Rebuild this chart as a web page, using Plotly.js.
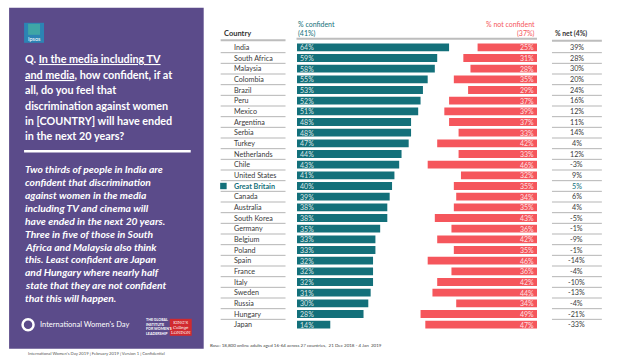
<!DOCTYPE html>
<html>
<head>
<meta charset="utf-8">
<script src="https://cdn.plot.ly/plotly-3.0.1.min.js"></script>
<style>html,body{margin:0;padding:0;background:#fff;}#chart{width:638px;height:359px;}</style>
</head>
<body>
<div id="chart"></div>
<script>
// ---- data ----
const countries = ["India","South Africa","Malaysia","Colombia","Brazil","Peru","Mexico","Argentina","Serbia","Turkey","Netherlands","Chile","United States","Great Britain","Canada","Australia","South Korea","Germany","Belgium","Poland","Spain","France","Italy","Sweden","Russia","Hungary","Japan"];
const confident = [64,59,58,55,53,52,51,48,48,47,44,43,41,40,39,38,38,35,33,33,32,32,32,31,30,28,14];
const notConfident = [25,31,28,35,29,37,39,37,33,42,33,46,32,35,34,35,43,36,42,35,46,36,42,44,34,49,47];
const net = [39,28,30,20,24,16,12,11,14,4,12,-3,9,5,6,4,-5,-1,-9,-1,-14,-4,-10,-13,-4,-21,-33];
const highlight = "Great Britain";
const headers = {country:"Country", conf1:"% confident", conf2:"(41%)", not1:"% not confident", not2:"(37%)", net:"% net (4%)"};
const questionLines = ["Q. <u>In the media including TV</u>","<u>and media</u>, how confident, if at","all, do you feel that","discrimination against women","in [COUNTRY] will have ended","in the next 20 years?"];
const summaryLines = ["Two thirds of people in India are","confident that discrimination","against women in the media","including TV and cinema will","have ended in the next 20 years.","Three in five of those in South","Africa and Malaysia also think","this. Least confident are Japan","and Hungary where nearly half","state that they are not confident","that this will happen."];
const baseText = "Base: 18,800 online adults aged 16-64 across 27 countries,  21 Dec 2018 - 4 Jan  2019";
const footerText = "International Women's Day 2019 | February 2019 | Version 1 | Confidential";

// ---- geometry (pixels) ----
const FW = 638, FH = 359;
const L = 296.5, R = 537, T = 42.2, B = 330.2;
const W = R - L, H = B - T;
const px = x => (x - L) / W;
const py = y => 1 - (y - T) / H;
const TEAL = "#13707a", RED = "#f5565c", PURPLE = "#5b4b8a";
const N = countries.length;
const XR = 101;

const traces = [
  {type:"bar", orientation:"h", y:countries, x:confident, xaxis:"x", yaxis:"y",
   marker:{color:TEAL}, text:confident.map(v=>v+"%"), textposition:"inside", insidetextanchor:"start",
   textfont:{family:"Lato, sans-serif", size:7, color:"rgba(255,255,255,0.85)"}, textangle:0, constraintext:"none",
   hoverinfo:"skip", showlegend:false},
  {type:"bar", orientation:"h", y:countries, x:notConfident, xaxis:"x2", yaxis:"y",
   marker:{color:RED}, text:notConfident.map(v=>v+"%"), textposition:"inside", insidetextanchor:"start",
   textfont:{family:"Lato, sans-serif", size:7, color:"rgba(255,255,255,0.85)"}, textangle:0, constraintext:"none",
   hoverinfo:"skip", showlegend:false}
];

const shapes = [];
const ann = [];
// left panel
shapes.push({type:"rect", xref:"paper", yref:"paper", x0:px(8), x1:px(203), y0:py(8), y1:py(349), fillcolor:PURPLE, line:{width:0}, layer:"below"});
// Ipsos logo
shapes.push({type:"rect", xref:"paper", yref:"paper", x0:px(23), x1:px(43), y0:py(23), y1:py(43), fillcolor:"#2c84b4", line:{width:0}});
shapes.push({type:"rect", xref:"paper", yref:"paper", x0:px(27), x1:px(39), y0:py(24), y1:py(35), fillcolor:"#3fa6a6", line:{width:0}});
ann.push({xref:"paper", yref:"paper", x:px(33), y:py(39.5), text:"Ipsos", showarrow:false, xanchor:"center", yanchor:"middle", font:{family:"Lato", size:5.5, color:"#fff"}});
questionLines.forEach((t,i)=>ann.push({xref:"paper", yref:"paper", x:px(22), y:py(59+i*15.4), text:"<b>"+t+"</b>", showarrow:false, xanchor:"left", yanchor:"middle", font:{family:"Lato, sans-serif", size:10.8, color:"#fff"}}));
shapes.push({type:"line", xref:"paper", yref:"paper", x0:px(23), x1:px(190), y0:py(151.5), y1:py(151.5), line:{color:"#fff", width:2.5}});
summaryLines.forEach((t,i)=>ann.push({xref:"paper", yref:"paper", x:px(22), y:py(169.3+i*12.9), text:"<b><i>"+t+"</i></b>", showarrow:false, xanchor:"left", yanchor:"middle", font:{family:"Lato, sans-serif", size:10.3, color:"#fff"}}));
// IWD logo
shapes.push({type:"circle", xref:"paper", yref:"paper", x0:px(21.5), x1:px(32.5), y0:py(319.5), y1:py(330.5), line:{color:"#fff", width:2.5}});
ann.push({xref:"paper", yref:"paper", x:px(37), y:py(325), text:"International Women's Day", showarrow:false, xanchor:"left", yanchor:"middle", font:{family:"Lato, sans-serif", size:7.5, color:"#fff"}});
ann.push({xref:"paper", yref:"paper", x:px(143), y:py(327), text:"<b>THE GLOBAL<br>INSTITUTE<br>FOR WOMEN'S<br>LEADERSHIP</b>", showarrow:false, xanchor:"left", yanchor:"middle", align:"left", font:{family:"Lato, sans-serif", size:3.6, color:"#fff"}});
shapes.push({type:"rect", xref:"paper", yref:"paper", x0:px(169), x1:px(191), y0:py(319), y1:py(336), fillcolor:"#d12a2f", line:{width:0}});
ann.push({xref:"paper", yref:"paper", x:px(180), y:py(327.5), text:"KING'S<br>College<br>LONDON", showarrow:false, xanchor:"center", yanchor:"middle", font:{family:"DejaVu Serif, serif", size:4, color:"#fff"}});
// footer & base
ann.push({xref:"paper", yref:"paper", x:px(25), y:py(353.5), text:footerText, showarrow:false, xanchor:"left", yanchor:"middle", font:{family:"Lato, sans-serif", size:4.2, color:"#555"}});
ann.push({xref:"paper", yref:"paper", x:px(207.5), y:py(346), text:baseText, showarrow:false, xanchor:"left", yanchor:"middle", font:{family:"Lato, sans-serif", size:4.5, color:"#444"}});

// headers
ann.push({xref:"paper", yref:"paper", x:px(221.5), y:py(33.5), text:"<b>"+headers.country+"</b>", showarrow:false, xanchor:"left", yanchor:"middle", font:{family:"Lato, sans-serif", size:7.5, color:"#333"}});
ann.push({xref:"paper", yref:"paper", x:px(295.5), y:py(24.5), text:headers.conf1, showarrow:false, xanchor:"left", yanchor:"middle", font:{family:"Lato, sans-serif", size:7, color:TEAL}});
ann.push({xref:"paper", yref:"paper", x:px(295.5), y:py(34), text:headers.conf2, showarrow:false, xanchor:"left", yanchor:"middle", font:{family:"Lato, sans-serif", size:7, color:TEAL}});
ann.push({xref:"paper", yref:"paper", x:px(537.5), y:py(24.5), text:headers.not1, showarrow:false, xanchor:"right", yanchor:"middle", font:{family:"Lato, sans-serif", size:7, color:RED}});
ann.push({xref:"paper", yref:"paper", x:px(537.5), y:py(34), text:headers.not2, showarrow:false, xanchor:"right", yanchor:"middle", font:{family:"Lato, sans-serif", size:7, color:RED}});
ann.push({xref:"paper", yref:"paper", x:px(553), y:py(34), text:"<b>"+headers.net+"</b>", showarrow:false, xanchor:"left", yanchor:"middle", font:{family:"Lato, sans-serif", size:6.8, color:"#333"}});
// header lines
shapes.push({type:"line", xref:"paper", yref:"paper", x0:px(220), x1:px(285), y0:py(40.5), y1:py(40.5), line:{color:"#bdbdbd", width:2}});
shapes.push({type:"line", xref:"paper", yref:"paper", x0:px(296), x1:px(537), y0:py(39), y1:py(39), line:{color:"#bdbdbd", width:2}});
shapes.push({type:"line", xref:"paper", yref:"paper", x0:px(552), x1:px(602), y0:py(41), y1:py(41), line:{color:"#bdbdbd", width:2}});

// rows
countries.forEach((c,i)=>{
  const hl = c === highlight;
  ann.push({xref:"paper", yref:"y", x:px(231.5), y:c, text:hl?"<b>"+c+"</b>":c, showarrow:false, xanchor:"left", yanchor:"middle",
    font:{family:"Lato, sans-serif", size:7.2, color:hl?TEAL:"#3a3a3a"}});
  ann.push({xref:"paper", yref:"y", x:px(577), y:c, text:net[i]+"%", showarrow:false, xanchor:"center", yanchor:"middle",
    font:{family:"Lato, sans-serif", size:7.2, color:hl?TEAL:"#3a3a3a"}});
  if (hl) shapes.push({type:"rect", xref:"paper", yref:"y", x0:px(219.5), x1:px(226), y0:i-0.3, y1:i+0.3, fillcolor:TEAL, line:{width:0}});
  if (i < N-1) {
    shapes.push({type:"line", xref:"paper", yref:"y", x0:px(220), x1:px(285), y0:i+0.5, y1:i+0.5, line:{color:"#b5b5b5", width:1}});
    shapes.push({type:"line", xref:"paper", yref:"y", x0:px(552), x1:px(602), y0:i+0.5, y1:i+0.5, line:{color:"#b5b5b5", width:1}});
  }
});

const layout = {
  width:FW, height:FH,
  margin:{l:L, r:FW-R, t:T, b:FH-B, pad:0},
  paper_bgcolor:"#fff", plot_bgcolor:"rgba(0,0,0,0)",
  barmode:"overlay", bargap:0.26,
  showlegend:false,
  xaxis:{range:[0,XR], visible:false, fixedrange:true},
  xaxis2:{range:[XR,0], overlaying:"x", visible:false, fixedrange:true},
  yaxis:{type:"category", range:[N-0.5,-0.5], visible:false, fixedrange:true},
  shapes:shapes, annotations:ann,
  font:{family:"Lato, sans-serif"}
};
Plotly.newPlot("chart", traces, layout, {staticPlot:true, displayModeBar:false});
</script>
</body>
</html>
